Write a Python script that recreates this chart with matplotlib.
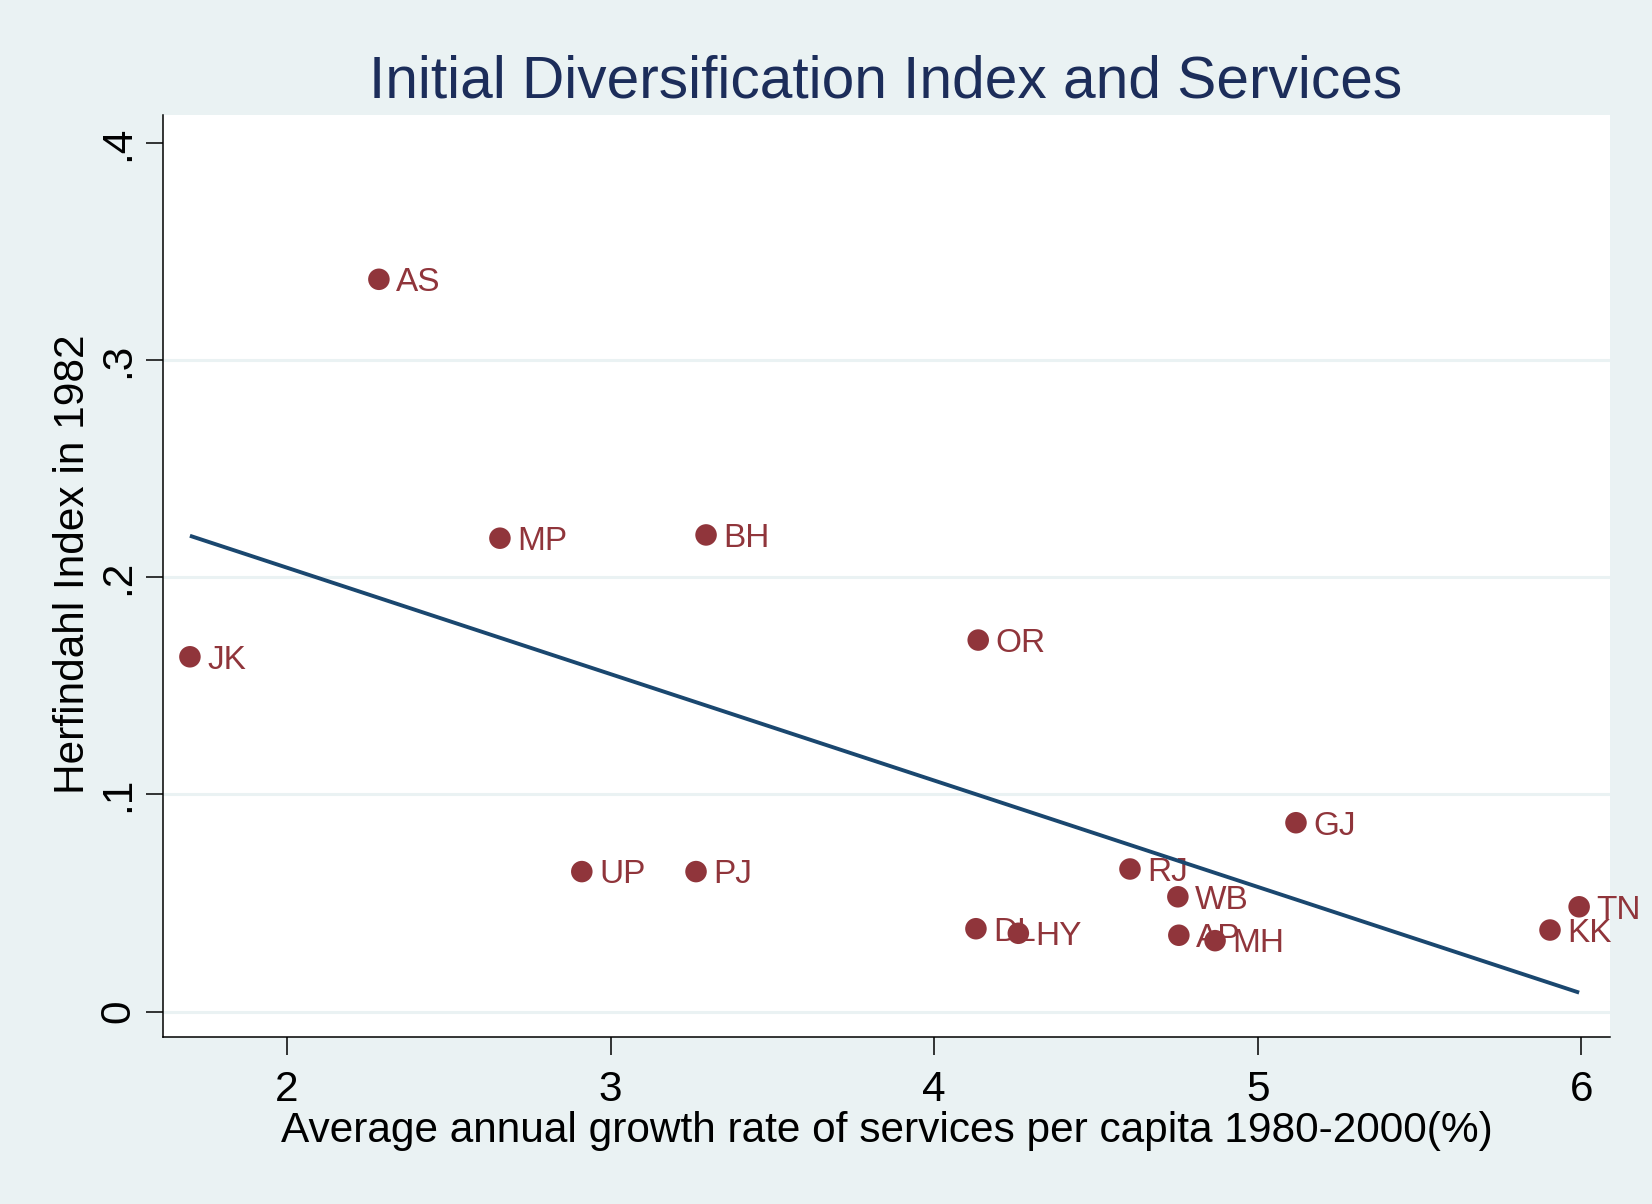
import matplotlib
matplotlib.use("Agg")
import matplotlib.pyplot as plt
import numpy as np

plt.rcParams["font.family"] = ["Liberation Sans", "DejaVu Sans"]

# state codes with services growth (%) and 1982 Herfindahl index
states = ["JK", "AS", "MP", "UP", "PJ", "BH", "DL", "OR", "HY", "RJ",
          "WB", "AP", "MH", "GJ", "KK", "TN"]
growth = [1.700, 2.284, 2.658, 2.911, 3.264, 3.295, 4.129, 4.136, 4.260, 4.605,
          4.753, 4.756, 4.868, 5.118, 5.903, 5.993]
herf = [0.1634, 0.3372, 0.2180, 0.0645, 0.0645, 0.2195, 0.0382, 0.1711, 0.0361, 0.0657,
        0.0529, 0.0352, 0.0327, 0.0870, 0.0376, 0.0483]

xticks = [2, 3, 4, 5, 6]
yticks = [0, 0.1, 0.2, 0.3, 0.4]
ytick_labels = ["0", ".1", ".2", ".3", ".4"]

BG = "#EAF2F3"
MAROON = "#90353B"
NAVY = "#1A476F"
TITLE = "#1C2D5A"
FS = 30.5

fig = plt.figure(figsize=(16.52, 12.04), dpi=100, facecolor=BG)
ax = fig.add_axes([163 / 1652, 1 - 1037 / 1204, (1610 - 163) / 1652, (1037 - 115) / 1204])
ax.set_facecolor("white")

x = np.array(growth)
y = np.array(herf)

# horizontal grid in the background colour
for v in yticks[:-1]:
    ax.axhline(v, color=BG, lw=2.2, zorder=0)

ax.scatter(x, y, s=15.5 ** 2, color=MAROON, edgecolors="none", zorder=3)
for name, xi, yi in zip(states, x, y):
    ax.annotate(name, (xi, yi), xytext=(12.3, -8.5), textcoords="offset points",
                ha="left", va="baseline", fontsize=24, color=MAROON, zorder=3)

# linear fit over the data range
b, a = np.polyfit(x, y, 1)
xs = np.array([x.min(), x.max()])
ax.plot(xs, a + b * xs, color=NAVY, lw=2.8, zorder=4, solid_capstyle="butt")

ax.set_xlim(1.6168, 6.0884)
ax.set_ylim(-0.01165, 0.41284)
ax.set_xticks(xticks)
ax.set_yticks(yticks)
ax.set_yticklabels(ytick_labels)

for side in ("top", "right"):
    ax.spines[side].set_visible(False)
for side in ("left", "bottom"):
    ax.spines[side].set_linewidth(1.1)
    ax.spines[side].set_color("black")

ax.tick_params(axis="x", direction="out", length=13, width=1.1, pad=11, labelsize=FS)
ax.tick_params(axis="y", direction="out", length=12, width=1.1, pad=6, labelsize=FS,
               labelrotation=90)
for lbl in ax.get_yticklabels():
    lbl.set_va("center")

ax.set_xlabel("Average annual growth rate of services per capita 1980-2000(%)",
              fontsize=FS, va="baseline")
ax.xaxis.set_label_coords(0.5, -0.1142)
ax.set_ylabel("Herfindahl Index in 1982", fontsize=FS, rotation=90,
              rotation_mode="anchor", ha="center", va="baseline")
ax.yaxis.set_label_coords(-0.0548, 0.513)

fig.text(886 / 1652, 1 - 97 / 1204, "Initial Diversification Index and Services",
         ha="center", va="baseline", fontsize=42.2, color=TITLE)

fig.savefig("out.png", dpi=100, facecolor=BG)
